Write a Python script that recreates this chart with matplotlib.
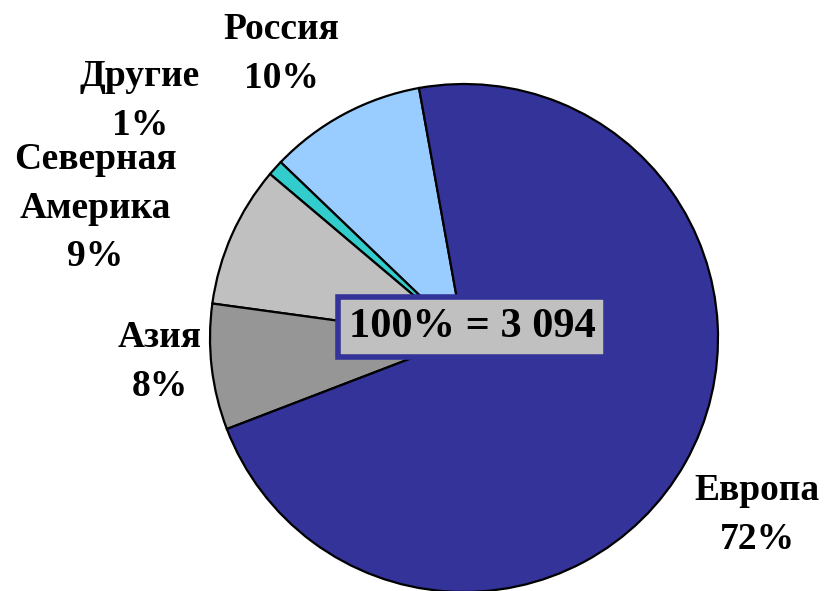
import matplotlib
matplotlib.use("Agg")
import matplotlib.pyplot as plt

# Share of the total by region, percent
regions = ["Россия", "Другие", "Северная\nАмерика", "Азия", "Европа"]
shares = [10, 1, 9, 8, 72]
colors = ["#99CCFF", "#33CCCC", "#C0C0C0", "#969696", "#333399"]
total_label = "100% = 3 094"

# label anchors (x, y) in pixel-like units of the canvas, origin bottom-left
label_pos = [(281, 537), (140, 490), (95, 383), (160, 229), (757, 76)]

W, H = 825, 591
fig = plt.figure(figsize=(W / 100, H / 100), dpi=100)
ax = fig.add_axes([0, 0, 1, 1])

ax.pie(shares, colors=colors, startangle=100.2, counterclock=True,
       center=(464, 253), radius=254, frame=True,
       wedgeprops=dict(edgecolor="black", linewidth=1.6))
ax.set_xlim(0, W)
ax.set_ylim(0, H)
ax.set_aspect("equal")
ax.axis("off")

font = dict(family="Liberation Serif", weight="bold", color="black")
for name, val, (x, y) in zip(regions, shares, label_pos):
    ax.text(x, y, f"{name}\n{val}%", ha="center", va="center",
            fontsize=27, linespacing=1.5, **font)

ax.text(472, 264, total_label, ha="center", va="center", fontsize=30.5,
        bbox=dict(boxstyle="square,pad=0.25", facecolor="#C0C0C0",
                  edgecolor="#333399", linewidth=4), **font)

fig.savefig("out.png", dpi=100, facecolor="white")
